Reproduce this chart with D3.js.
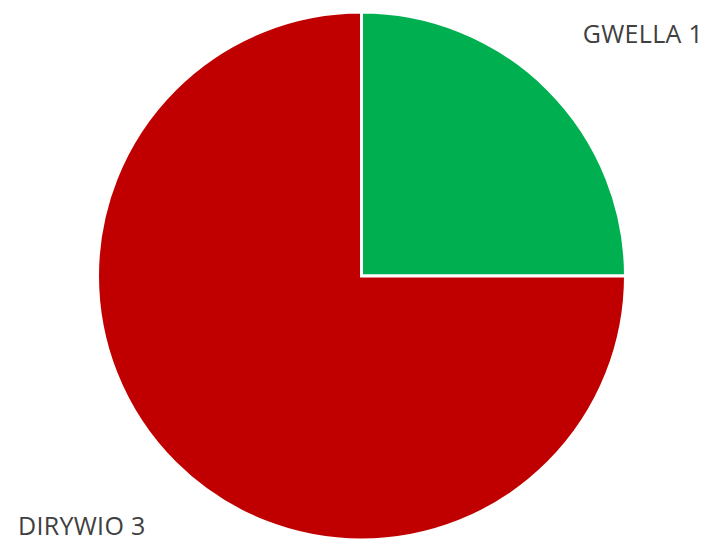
<!DOCTYPE html>
<html>
<head>
<meta charset="utf-8">
<script src="https://cdn.jsdelivr.net/npm/d3@7"></script>
<style>
  html, body { margin: 0; padding: 0; background: #fff; }
  svg { display: block; }
</style>
</head>
<body>
<svg id="chart" width="709" height="542"></svg>
<script>
const categories = ["GWELLA", "DIRYWIO"];
const values = [1, 3];
const colors = ["#00B050", "#C00000"];
const labels = ["GWELLA 1", "DIRYWIO 3"];

const svg = d3.select("#chart");
const cx = 361.5, cy = 276, r = 264;

const pie = d3.pie().sort(null).value(d => d.value);
const data = categories.map((c, i) => ({ name: c, value: values[i], color: colors[i], label: labels[i] }));
const arcs = pie(data);
const arc = d3.arc().innerRadius(0).outerRadius(r);

const g = svg.append("g").attr("transform", `translate(${cx},${cy})`);
g.selectAll("path")
  .data(arcs)
  .join("path")
  .attr("d", arc)
  .attr("fill", d => d.data.color)
  .attr("stroke", "#fff")
  .attr("stroke-width", 3)
  .attr("stroke-linejoin", "miter");

const labelPos = [
  { x: 703, y: 43, anchor: "end" },
  { x: 18, y: 535, anchor: "start" }
];
svg.selectAll("text.lbl")
  .data(data)
  .join("text")
  .attr("class", "lbl")
  .attr("x", (d, i) => labelPos[i].x)
  .attr("y", (d, i) => labelPos[i].y)
  .attr("text-anchor", (d, i) => labelPos[i].anchor)
  .attr("font-family", "'Open Sans', sans-serif")
  .attr("font-size", 25)
  .attr("letter-spacing", 0.3)
  .attr("fill", "#404040")
  .text(d => d.label);
</script>
</body>
</html>
